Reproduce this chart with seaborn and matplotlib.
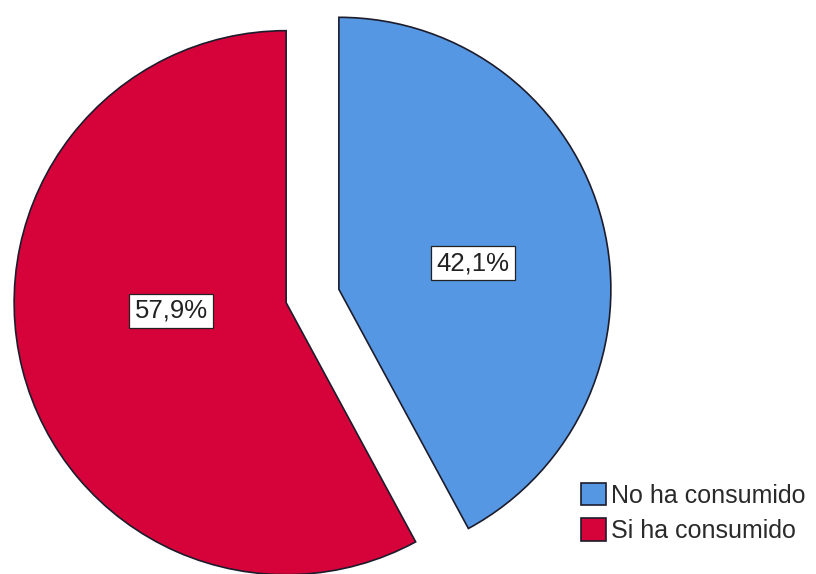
import matplotlib
matplotlib.use("Agg")
import matplotlib.pyplot as plt
from matplotlib.patches import Patch
import seaborn as sns

# Consumption shares
categories = ["No ha consumido", "Si ha consumido"]
percentages = [42.1, 57.9]
colors = ["#5597E3", "#D6033A"]

sns.set_theme(style="white")
plt.rcParams["font.family"] = ["Liberation Sans", "DejaVu Sans"]

fig = plt.figure(figsize=(8.16, 5.74), dpi=100)
ax = fig.add_axes([0, 0, 1, 1])

wedges, texts, autotexts = ax.pie(
    percentages,
    colors=colors,
    explode=[0.1, 0.1],
    startangle=90,
    counterclock=False,
    autopct=lambda p: f"{p:.1f}%".replace(".", ","),
    pctdistance=0.5,
    wedgeprops=dict(edgecolor="#1c1c2c", linewidth=1.2),
    textprops=dict(fontsize=18.5, color="#222222"),
)

# label placement inside each slice
label_pos = [(0.590, 0.121), (-0.520, -0.055)]
for t, pos in zip(autotexts, label_pos):
    t.set_position(pos)
    t.set_ha("center")
    t.set_va("center")
    t.set_bbox(dict(boxstyle="square,pad=0.2", fc="white", ec="#222222", lw=0.9))

ax.set_aspect("auto")
ax.set_xlim(-312.5 / 272, (816 - 312.5) / 272)
ax.set_ylim(-(574 - 296) / 272, 296 / 272)
ax.axis("off")

handles = [Patch(facecolor=c, edgecolor="#1c1c2c", linewidth=1.2) for c in colors]
leg = fig.legend(
    handles,
    categories,
    loc="upper left",
    bbox_to_anchor=(581 / 816, 1 - 483 / 574),
    frameon=False,
    fontsize=18,
    handlelength=1.0,
    handleheight=1.0,
    handletextpad=0.2,
    labelspacing=0.42,
    borderpad=0,
    borderaxespad=0,
)
for txt in leg.get_texts():
    txt.set_color("#2a2a2a")

fig.savefig("out.png", dpi=100)
